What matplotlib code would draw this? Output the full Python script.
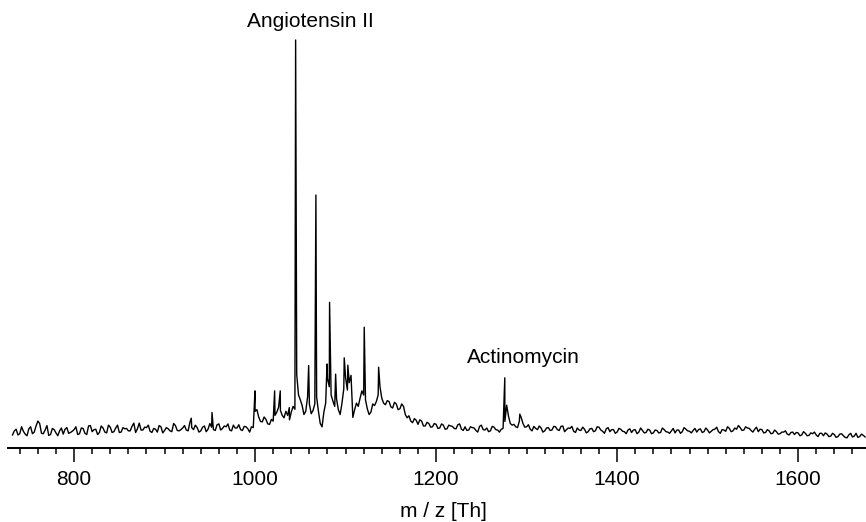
import matplotlib
matplotlib.use("Agg")
import matplotlib.pyplot as plt
from matplotlib.ticker import MultipleLocator
import numpy as np

# baseline trace read every 4 Th from 732 to 1672 (relative intensity, max peak = 100)
BASE_START = 732
BASE_STEP = 4
base_int = [
    3.2, 4.6, 3.5, 4.1, 3.0, 5.2, 3.9, 6.6, 3.6, 4.4, 3.1, 4.8, 3.7, 4.2, 3.4, 5.0, 3.8, 4.5, 3.3, 4.9, 3.6, 5.4, 4.0, 4.6, 3.8,
    4.9, 3.7, 5.1, 4.0, 5.6, 3.9, 4.7, 4.2, 5.3, 3.8, 6.1, 4.4, 5.0, 4.1, 4.8, 3.9, 5.2, 4.3, 4.7, 4.0, 5.5, 4.2, 4.9, 4.4, 6.3,
    4.5, 5.0, 4.2, 5.4, 4.6, 5.1, 4.3, 5.9, 4.8, 5.2, 4.4, 5.6, 4.9, 4.5, 5.3, 4.7, 5.2, 9.0, 7.6, 6.4, 7.0, 5.8, 6.6, 8.8, 9.2,
    7.4, 8.0, 8.8, 9.5, 13.0, 10.4, 9.0, 10.8, 9.2, 12.5, 6.0, 8.8, 17.0, 13.0, 10.2, 9.4, 11.0, 17.2, 16.0, 7.5, 11.0, 12.2, 13.0, 9.6, 8.8,
    10.4, 13.0, 12.2, 10.6, 11.4, 9.8, 10.8, 9.6, 10.2, 7.4, 6.6, 7.2, 5.8, 6.6, 5.4, 6.0, 5.2, 5.8, 4.9, 5.6, 4.7, 5.4, 4.8, 5.7, 4.6,
    5.2, 4.4, 5.0, 4.3, 5.3, 4.5, 4.9, 4.2, 5.1, 4.4, 4.6, 6.5, 7.8, 5.6, 5.2, 6.6, 6.0, 5.2, 4.6, 5.3, 4.5, 4.9, 4.2, 5.0, 4.4,
    5.2, 4.3, 5.4, 4.5, 4.8, 4.1, 4.9, 4.3, 4.6, 4.0, 4.8, 4.2, 5.1, 4.1, 4.7, 4.0, 4.5, 3.9, 4.6, 4.0, 4.4, 3.8, 4.5, 3.9, 4.3,
    3.8, 4.4, 3.7, 4.3, 3.8, 4.5, 3.9, 4.2, 3.7, 4.4, 4.0, 4.6, 4.1, 4.3, 3.9, 4.7, 4.0, 4.4, 4.1, 4.6, 4.0, 4.5, 4.1, 4.8, 4.2,
    4.6, 5.0, 4.4, 4.9, 4.3, 4.6, 4.0, 4.5, 3.8, 4.2, 3.6, 4.0, 3.5, 3.9, 3.4, 3.8, 3.3, 3.7, 3.2, 3.6, 3.1, 3.5, 3.2, 3.6, 3.0,
    3.4, 2.9, 3.3, 2.8, 3.5, 2.6, 3.2, 2.7, 3.6, 2.8, 3.1,
]
# the readings in between (734, 738, ... 1674)
mid_int = [
    4.2, 3.2, 5.2, 3.4, 4.7, 3.5, 5.4, 6.0, 3.5, 5.5, 3.3, 4.5, 3.0, 4.9, 4.6, 3.6, 4.1, 5.2, 3.5, 4.8, 3.3, 5.5, 4.5, 3.3, 5.4,
    3.9, 5.6, 3.8, 4.9, 3.8, 5.0, 4.8, 4.2, 6.1, 4.7, 4.4, 5.1, 5.6, 3.8, 4.6, 5.5, 3.7, 5.0, 4.2, 6.0, 4.3, 4.5, 5.5, 4.2, 5.0,
    5.6, 3.9, 5.1, 4.0, 6.0, 4.5, 5.7, 4.4, 5.4, 5.9, 4.2, 4.9, 5.7, 4.3, 5.2, 3.9, 5.0, 9.4, 6.5, 7.6, 5.9, 7.0, 8.0, 10.0, 8.0,
    9.0, 6.9, 10.2, 18.0, 11.8, 8.2, 12.5, 8.4, 10.8, 9.0, 5.2, 11.0, 15.0, 11.5, 12.0, 8.2, 14.5, 14.2, 17.8, 9.4, 10.2, 14.0, 11.8, 8.2, 10.8,
    11.4, 15.0, 11.0, 11.6, 10.1, 11.2, 9.4, 10.8, 8.2, 7.9, 6.2, 6.8, 6.9, 5.4, 6.3, 5.1, 6.0, 4.8, 5.9, 4.6, 5.6, 5.3, 4.7, 5.9, 4.3,
    4.3, 5.2, 4.9, 3.9, 5.6, 4.4, 4.0, 5.3, 4.5, 3.9, 4.8, 10.5, 6.0, 5.8, 5.0, 7.5, 5.1, 5.7, 4.2, 4.8, 5.4, 3.9, 4.9, 4.3, 5.3,
    4.5, 5.3, 4.0, 4.9, 5.3, 3.8, 4.4, 5.1, 3.7, 4.7, 4.0, 5.2, 4.4, 3.6, 5.0, 4.5, 3.6, 4.8, 4.1, 3.5, 4.7, 4.4, 3.5, 4.9, 3.7,
    4.6, 3.5, 4.4, 3.7, 4.9, 4.0, 3.6, 4.8, 4.4, 3.6, 5.0, 4.2, 3.7, 4.8, 4.5, 3.8, 4.9, 3.7, 4.5, 5.1, 3.6, 4.4, 5.2, 4.0, 4.9,
    5.5, 4.3, 5.2, 4.8, 3.9, 5.1, 4.6, 3.7, 4.5, 3.5, 4.4, 3.4, 3.9, 4.2, 3.2, 3.9, 3.8, 3.0, 4.0, 3.0, 3.7, 3.9, 2.8, 3.6, 3.7,
    2.8, 3.6, 2.6, 3.4, 3.0, 2.5, 3.6, 2.9, 2.6, 3.4, 2.7,
]
base_mz = BASE_START + BASE_STEP * np.arange(len(base_int))
mid_mz = BASE_START + BASE_STEP / 2 + BASE_STEP * np.arange(len(mid_int))

# peak apexes
peak_mz = [929.5, 952.4, 999.9, 1021.6, 1027.8, 1037.8, 1044.8, 1059.2, 1067.2,
           1079.5, 1082.3, 1089.0, 1098.5, 1102.5, 1120.6, 1136.5, 1275.9, 1292.5]
peak_int = [7.3, 8.7, 14.0, 14.0, 14.0, 9.9, 100.0, 20.2, 62.0,
            20.6, 35.7, 18.1, 22.1, 20.3, 29.6, 19.8, 17.2, 8.3]

labels = ["Angiotensin II", "Actinomycin"]
label_mz = [1060.6, 1296.6]
label_int = [103.2, 20.8]

xticks = [800, 1000, 1200, 1400, 1600]

mz = np.concatenate([base_mz, mid_mz, peak_mz])
inten = np.concatenate([base_int, mid_int, peak_int])
order = np.argsort(mz, kind="stable")
mz, inten = mz[order], inten[order]

plt.rcParams["font.family"] = ["Liberation Sans", "DejaVu Sans"]

fig = plt.figure(figsize=(8.66, 5.22), dpi=100)
ax = fig.add_axes([8 / 866, 74 / 522, 858 / 866, 448 / 522])
ax.plot(mz, inten, color="black", linewidth=1.0)

ax.set_xlim(727, 1675)
ax.set_ylim(0, 109.8)

for sp in ["left", "right", "top"]:
    ax.spines[sp].set_visible(False)
ax.spines["bottom"].set_linewidth(1.4)
ax.set_yticks([])
ax.set_xticks(xticks)
ax.set_xticklabels([str(t) for t in xticks])
ax.xaxis.set_minor_locator(MultipleLocator(20))
ax.tick_params(axis="x", which="major", length=10, width=1.1, labelsize=15, pad=6)
ax.tick_params(axis="x", which="minor", length=4.5, width=1.1)

for txt, x, y in zip(labels, label_mz, label_int):
    ax.text(x, y, txt, ha="center", va="baseline", fontsize=15, clip_on=False)

fig.text(443 / 866, 5 / 522, "m / z [Th]", ha="center", va="baseline", fontsize=15)

fig.savefig("out.png", dpi=100)
